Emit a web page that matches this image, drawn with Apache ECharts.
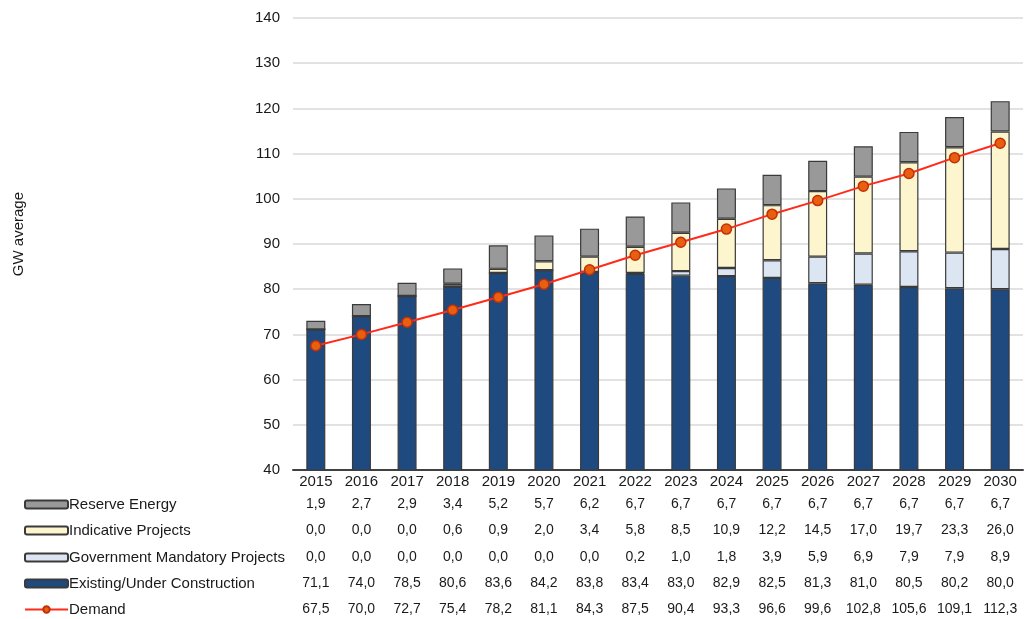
<!DOCTYPE html>
<html>
<head>
<meta charset="utf-8">
<script src="https://cdn.jsdelivr.net/npm/echarts@6/dist/echarts.min.js"></script>
<style>html,body{margin:0;padding:0;background:#fff;}#c{width:1025px;height:619px;}</style>
</head>
<body>
<div id="c"></div>
<script>
var years = ['2015','2016','2017','2018','2019','2020','2021','2022','2023','2024','2025','2026','2027','2028','2029','2030'];
var reserve = [1.9,2.7,2.9,3.4,5.2,5.7,6.2,6.7,6.7,6.7,6.7,6.7,6.7,6.7,6.7,6.7];
var indicative = [0.0,0.0,0.0,0.6,0.9,2.0,3.4,5.8,8.5,10.9,12.2,14.5,17.0,19.7,23.3,26.0];
var government = [0.0,0.0,0.0,0.0,0.0,0.0,0.0,0.2,1.0,1.8,3.9,5.9,6.9,7.9,7.9,8.9];
var existing = [71.1,74.0,78.5,80.6,83.6,84.2,83.8,83.4,83.0,82.9,82.5,81.3,81.0,80.5,80.2,80.0];
var demand = [67.5,70.0,72.7,75.4,78.2,81.1,84.3,87.5,90.4,93.3,96.6,99.6,102.8,105.6,109.1,112.3];
var seriesNames = ['Reserve Energy','Indicative Projects','Government Mandatory Projects','Existing/Under Construction','Demand'];
var yTicks = {min:40, max:140, interval:10};

function fmt(v){ return v.toFixed(1).replace('.', ','); }

var FONT = 'Liberation Sans, Arial, sans-serif';
var tableRows = [reserve, indicative, government, existing, demand];
var offsets = [22, 48, 75, 101, 127];
var legendTops = [497, 523, 550, 576, 602];

var xAxes = [{
  type:'category', data: years, gridIndex:0, position:'bottom',
  axisLine:{show:true, lineStyle:{color:'#404040', width:2}},
  axisTick:{show:false},
  axisLabel:{color:'#1a1a1a', fontSize:15, fontFamily:FONT, margin:4},
  splitLine:{show:false}
}];
tableRows.forEach(function(row, i){
  xAxes.push({
    type:'category', data: row.map(fmt), gridIndex:0, position:'bottom', offset: offsets[i],
    axisLine:{show:false}, axisTick:{show:false}, splitLine:{show:false},
    axisLabel:{color:'#1a1a1a', fontSize:14, fontFamily:FONT, margin:5, interval:0}
  });
});

var legends = seriesNames.map(function(n, i){
  return {
    orient:'vertical', left:19, top:legendTops[i], itemWidth:43, itemHeight:8, padding:[0,5,0,5],
    textStyle:{color:'#1a1a1a', fontSize:15, fontFamily:FONT, padding:[0,0,0,-4]},
    data:[n]
  };
});

var barBorder = {borderColor:'#3a3a3a', borderWidth:1.2};
var chart = echarts.init(document.getElementById('c'), null, {renderer:'canvas'});
chart.setOption({
  animation:false,
  backgroundColor:'#fff',
  grid:{left:293, right:2, top:18, bottom:149, containLabel:false},
  legend: legends,
  graphic:[{
    type:'text', left:11, top:192, rotation:Math.PI/2,
    style:{text:'GW average', fill:'#1a1a1a', font:'15px ' + FONT}
  }],
  xAxis: xAxes,
  yAxis:{
    type:'value', min:yTicks.min, max:yTicks.max, interval:yTicks.interval,
    axisLine:{show:false}, axisTick:{show:false},
    axisLabel:{color:'#1a1a1a', fontSize:15, fontFamily:FONT, margin:13},
    splitLine:{lineStyle:{color:'#d9d9d9', width:1.5}}
  },
  series:[
    {name:'Existing/Under Construction', type:'bar', stack:'s', data:existing, barWidth:19,
     itemStyle:Object.assign({color:'#1f4a80'}, barBorder)},
    {name:'Government Mandatory Projects', type:'bar', stack:'s', data:government, barWidth:19,
     itemStyle:Object.assign({color:'#dce6f2'}, barBorder)},
    {name:'Indicative Projects', type:'bar', stack:'s', data:indicative, barWidth:19,
     itemStyle:Object.assign({color:'#fcf5cd'}, barBorder)},
    {name:'Reserve Energy', type:'bar', stack:'s', data:reserve, barWidth:19,
     itemStyle:Object.assign({color:'#999999'}, barBorder)},
    {name:'Demand', type:'line', data:demand, symbol:'circle', symbolSize:10, z:5,
     lineStyle:{color:'#ff2a1a', width:2},
     itemStyle:{color:'#e8600f', borderColor:'#c0300a', borderWidth:1.5}}
  ]
});
</script>
</body>
</html>
